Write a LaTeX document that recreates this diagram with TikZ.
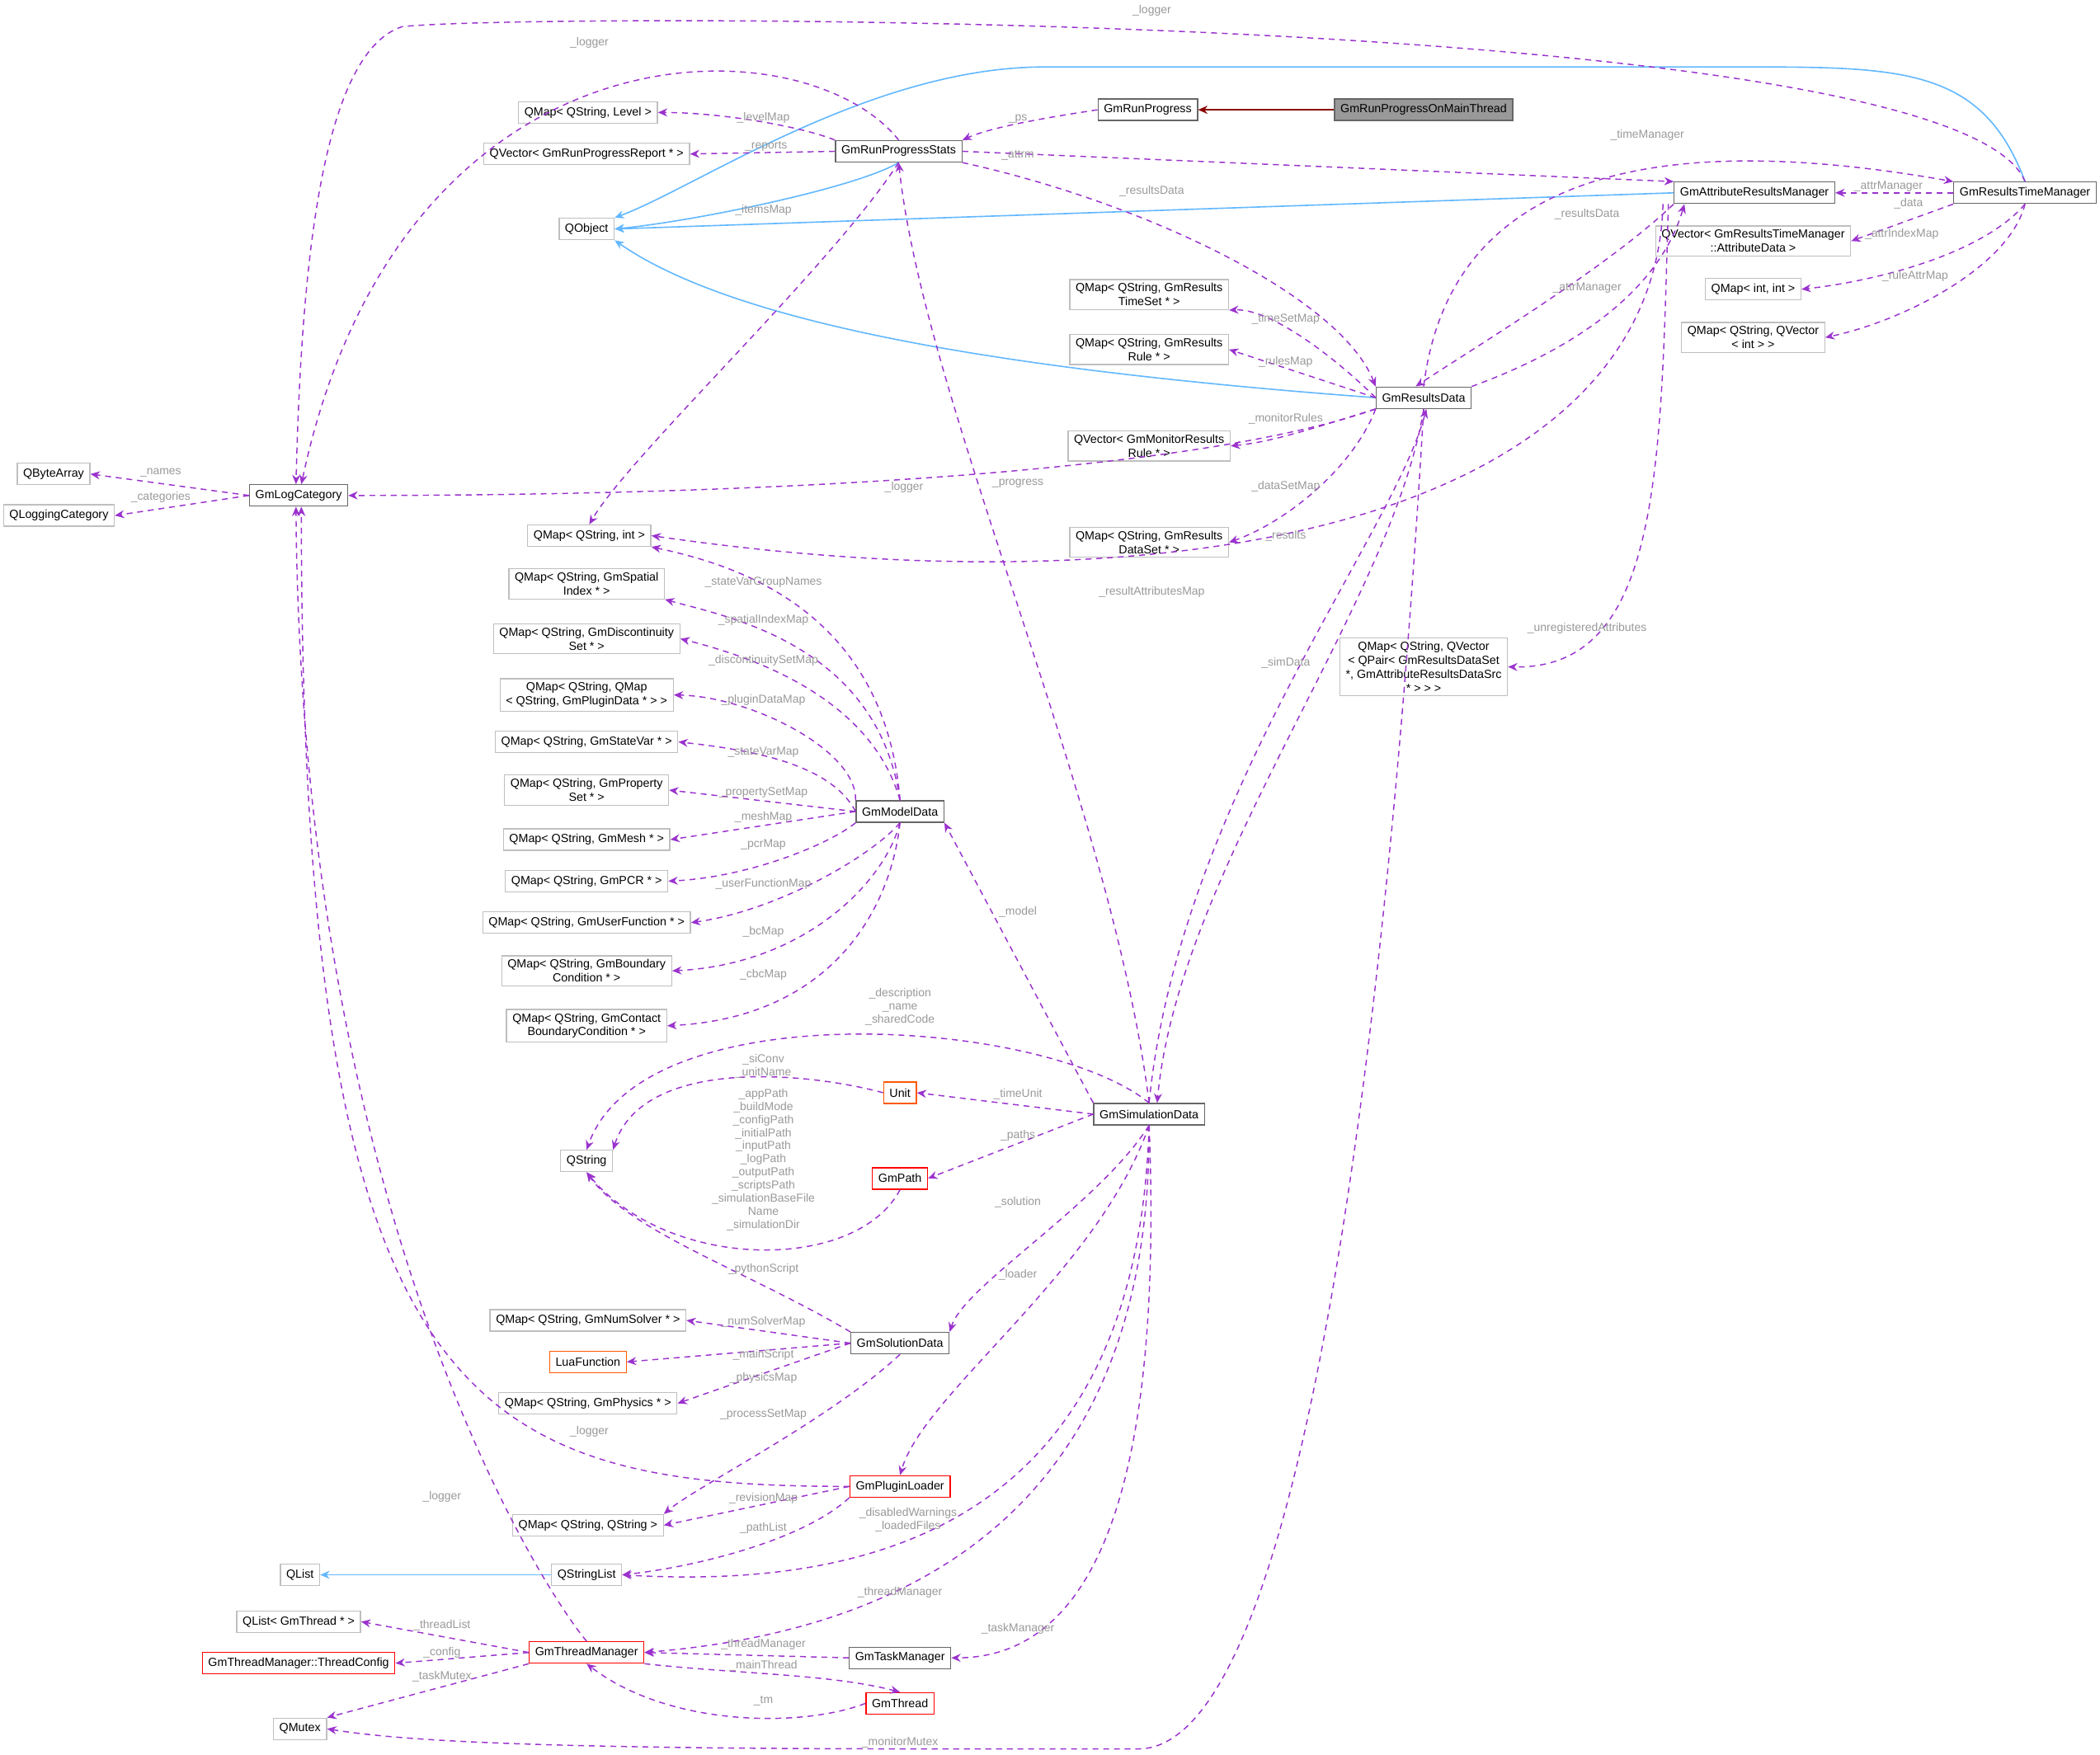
\documentclass[tikz,border=0pt]{standalone}
\usepackage{fontspec}
\setmainfont{Liberation Sans}
\usetikzlibrary{arrows.meta}
\definecolor{dep}{HTML}{9A32CD}
\definecolor{inhb}{HTML}{63B8FF}
\definecolor{inhr}{HTML}{8B0000}
\begin{document}
\begin{tikzpicture}[x=0.5pt,y=-0.5pt,
 every node/.style={font=\fontsize{4.4}{5.2}\selectfont},
 box/.style={draw=#1,fill=white,inner xsep=2.2pt,inner ysep=1.4pt,minimum height=8pt,align=center,line width=0.4pt},
 cls/.style={box=black!60},
 ext/.style={box=black!25},
 rcls/.style={box=red},
 ocls/.style={box=orange!70!red},
 lbl/.style={text=black!40,inner sep=0pt,align=center,font=\fontsize{4.3}{4.9}\selectfont},
 dep/.style={draw=dep,line width=0.45pt,dash pattern=on 2.2pt off 1.8pt,-{Stealth[length=3.5pt,width=3pt]}},
 inb/.style={draw=inhb,line width=0.5pt,-{Stealth[length=3.5pt,width=3pt]}},
 inr/.style={draw=inhr,line width=0.5pt,-{Stealth[length=3.5pt,width=3pt]}}]
\useasboundingbox (0,0) rectangle (1568,1310);
% nodes
\node[cls,fill=black!40,minimum width=63pt] (main) at (1063,82) {GmRunProgressOnMainThread};
\node[cls] (prog) at (857,82) {GmRunProgress};
\node[cls] (stats) at (671,113) {GmRunProgressStats};
\node[ext] (qlevel) at (439,84) {QMap< QString, Level >};
\node[ext] (qrep) at (438,115) {QVector< GmRunProgressReport * >};
\node[ext] (qobj) at (438,171) {QObject};
\node[cls] (attrm) at (1310,144) {GmAttributeResultsManager};
\node[cls] (timem) at (1512,144) {GmResultsTimeManager};
\node[ext] (qad) at (1309,180) {QVector< GmResultsTimeManager\\::AttributeData >};
\node[ext] (qii) at (1309,216) {QMap< int, int >};
\node[ext] (qsvi) at (1309,252) {QMap< QString, QVector\\< int > >};
\node[ext,minimum width=57pt] (qts) at (858,220) {QMap< QString, GmResults\\TimeSet * >};
\node[ext,minimum width=57pt] (qrule) at (858,261) {QMap< QString, GmResults\\Rule * >};
\node[cls] (rd) at (1063,297) {GmResultsData};
\node[ext,minimum width=57pt] (qmon) at (858,333) {QVector< GmMonitorResults\\Rule * >};
\node[ext,minimum width=57pt] (qds) at (858,405) {QMap< QString, GmResults\\DataSet * >};
\node[ext] (qba) at (40,354) {QByteArray};
\node[ext] (qlc) at (44,385) {QLoggingCategory};
\node[cls] (logc) at (223,370) {GmLogCategory};
\node[ext] (qsi) at (440,400) {QMap< QString, int >};
\node[ext] (qspi) at (438,436) {QMap< QString, GmSpatial\\Index * >};
\node[ext] (qdis) at (438,477) {QMap< QString, GmDiscontinuity\\Set * >};
\node[ext] (qpd) at (438,519) {QMap< QString, QMap\\< QString, GmPluginData * > >};
\node[ext] (qsv) at (438,554) {QMap< QString, GmStateVar * >};
\node[ext] (qps) at (438,590) {QMap< QString, GmProperty\\Set * >};
\node[ext] (qmesh) at (438,627) {QMap< QString, GmMesh * >};
\node[ext] (qpcr) at (438,658) {QMap< QString, GmPCR * >};
\node[ext] (quf) at (438,689) {QMap< QString, GmUserFunction * >};
\node[ext] (qbc) at (438,725) {QMap< QString, GmBoundary\\Condition * >};
\node[ext] (qcbc) at (438,766) {QMap< QString, GmContact\\BoundaryCondition * >};
\node[cls] (md) at (672,606) {GmModelData};
\node[ext,minimum width=62pt] (unreg) at (1063,498) {QMap< QString, QVector\\< QPair< GmResultsDataSet\\*, GmAttributeResultsDataSrc\\* > > >};
\node[ocls] (unit) at (672,816) {Unit};
\node[ext] (qstr) at (438,867) {QString};
\node[cls] (sim) at (858,832) {GmSimulationData};
\node[rcls] (path) at (672,880) {GmPath};
\node[ext] (qns) at (439,986) {QMap< QString, GmNumSolver * >};
\node[ocls] (lua) at (439,1017) {LuaFunction};
\node[ext] (qphy) at (439,1048) {QMap< QString, GmPhysics * >};
\node[cls] (sd) at (672,1003) {GmSolutionData};
\node[rcls] (pl) at (672,1110) {GmPluginLoader};
\node[ext] (qss) at (439,1139) {QMap< QString, QString >};
\node[ext] (qlist) at (224,1176) {QList};
\node[ext] (qsl) at (438,1176) {QStringList};
\node[ext] (qlt) at (223,1211) {QList< GmThread * >};
\node[rcls] (tcfg) at (223,1242) {GmThreadManager::ThreadConfig};
\node[ext] (qmut) at (224,1291) {QMutex};
\node[rcls] (tm) at (438,1234) {GmThreadManager};
\node[cls] (task) at (672,1238) {GmTaskManager};
\node[rcls] (thr) at (672,1272) {GmThread};
\coordinate (mm) at (850,1306);
% inheritance
\draw[inr] (main) -- (prog);
\draw[inb] (stats.south) .. controls (640,140) and (520,165) .. (qobj.east);
\draw[inb] (attrm.west) -- (qobj.east);
\draw[inb] (timem.north) .. controls (1480,50) and (1420,50) .. (1300,50) -- (780,50) .. controls (650,50) and (520,140) .. (qobj.north east);
\draw[inb] (rd.west) .. controls (800,280) and (560,250) .. (qobj.south east);
\draw[inb] (qsl) -- (qlist);
% dependencies
\draw[dep] (prog.west) .. controls (780,88) and (740,95) .. (stats.north east);
\draw[dep] (stats.north west) .. controls (600,95) and (540,84) .. (qlevel.east);
\draw[dep] (stats.west) -- (qrep.east);
\draw[dep] (stats.north) .. controls (600,15) and (300,10) .. ([xshift=1pt]logc.north);
\draw[dep] (timem.north) .. controls (1460,5) and (380,10) .. (300,20) .. controls (240,40) and (225,200) .. ([xshift=-1pt]logc.north);
\draw[dep] (stats.east) -- (attrm.north west);
\draw[dep] (stats.south east) .. controls (850,150) and (1000,220) .. (rd.north west);
\draw[dep] (stats.south) .. controls (620,200) and (470,340) .. (qsi.north);
\draw[dep] (timem.west) -- (attrm.east);
\draw[dep] (rd.north) .. controls (1080,150) and (1200,90) .. (timem.north west);
\draw[dep] (timem.south west) -- (qad.east);
\draw[dep] (timem.south) .. controls (1480,190) and (1400,210) .. (qii.east);
\draw[dep] (timem.south) .. controls (1500,200) and (1420,240) .. (qsvi.east);
\draw[dep] (attrm.south west) .. controls (1200,200) and (1100,260) .. ([xshift=-3pt]rd.north);
\draw[dep] (rd.north east) .. controls (1150,270) and (1235,230) .. ([xshift=4pt]attrm.south west);
\draw[dep] (rd.west) .. controls (1000,270) and (950,230) .. (qts.south east);
\draw[dep] (rd.west) -- (qrule.east);
\draw[dep] (rd.south west) .. controls (980,320) and (950,330) .. (qmon.east);
\draw[dep] (rd.south west) .. controls (900,350) and (600,370) .. (logc.east);
\draw[dep] (rd.south west) .. controls (1010,350) and (960,390) .. (qds.east);
\draw[dep] (sim.north) .. controls (830,600) and (690,300) .. (stats.south);
\draw[dep] (sim.north) .. controls (880,600) and (1040,400) .. ([xshift=1pt]rd.south);
\draw[dep] (rd.south) .. controls (1040,450) and (880,650) .. ([xshift=3pt]sim.north);
\draw[dep] ([xshift=-4pt]attrm.south west) .. controls (1235,380) and (900,460) .. (qsi.east);
\draw[dep] ([xshift=-2pt]attrm.south west) .. controls (1240,350) and (1240,500) .. (unreg.east);
\draw[dep] (logc.west) -- (qba.east);
\draw[dep] (logc.west) -- (qlc.east);
\draw[dep] (md.north) .. controls (660,450) and (540,420) .. (qsi.south east);
\draw[dep] (md.north) .. controls (655,480) and (540,460) .. (qspi.south east);
\draw[dep] (md.north) .. controls (650,520) and (560,490) .. (qdis.east);
\draw[dep] (md.north west) .. controls (640,560) and (560,520) .. (qpd.east);
\draw[dep] (md.west) .. controls (620,570) and (560,560) .. (qsv.east);
\draw[dep] (md.west) -- (qps.east);
\draw[dep] (md.west) -- (qmesh.east);
\draw[dep] (md.south west) .. controls (620,630) and (560,655) .. (qpcr.east);
\draw[dep] (md.south) .. controls (650,640) and (580,680) .. (quf.east);
\draw[dep] (md.south) .. controls (660,660) and (600,720) .. (qbc.east);
\draw[dep] (md.south) .. controls (665,680) and (620,760) .. (qcbc.east);
\draw[dep] (sim.north west) -- (md.south east);
\draw[dep] (sim.north) .. controls (780,760) and (480,740) .. (qstr.north);
\draw[dep] (unit.west) .. controls (600,800) and (480,790) .. (qstr.north east);
\draw[dep] (sim.west) -- (unit.east);
\draw[dep] (sim.west) -- (path.east);
\draw[dep] (path.south) .. controls (640,950) and (500,950) .. (qstr.south);
\draw[dep] (sd.north west) .. controls (560,950) and (470,920) .. (qstr.south);
\draw[dep] (sim.south) .. controls (820,900) and (720,960) .. (sd.north east);
\draw[dep] (sim.south) .. controls (820,950) and (690,1040) .. (pl.north);
\draw[dep] (sd.west) -- (qns.east);
\draw[dep] (sd.west) -- (lua.east);
\draw[dep] (sd.west) -- (qphy.east);
\draw[dep] (sd.south) .. controls (620,1060) and (520,1110) .. (qss.north east);
\draw[dep] (pl.west) .. controls (350,1110) and (225,1050) .. ([xshift=1pt]logc.south);
\draw[dep] (pl.west) -- (qss.east);
\draw[dep] (pl.south west) .. controls (600,1150) and (520,1170) .. (qsl.east);
\draw[dep] (sim.south) .. controls (850,1100) and (700,1190) .. (qsl.east);
\draw[dep] (tm.north) .. controls (400,1180) and (225,900) .. ([xshift=-1pt]logc.south);
\draw[dep] (tm.west) -- (qlt.east);
\draw[dep] (tm.west) -- (tcfg.east);
\draw[dep] (tm.south west) -- (qmut.north east);
\draw[dep] (sim.south) .. controls (860,1150) and (650,1220) .. (tm.east);
\draw[dep] (task.west) -- (tm.east);
\draw[dep] (tm.south east) .. controls (550,1250) and (620,1250) .. (thr.north);
\draw[dep] (thr.west) .. controls (600,1290) and (500,1290) .. (tm.south);
\draw[dep] (sim.south) .. controls (870,1150) and (800,1238) .. (task.east);
\draw[dep] (rd.south) .. controls (1040,700) and (980,1306) .. (mm) -- (700,1306) .. controls (400,1306) and (300,1300) .. (qmut.east);
% labels
\node[lbl] (l1) at (760,89) {\_ps};
\node[lbl] (l2) at (570,88) {\_levelMap};
\node[lbl] (l3) at (572,109) {\_reports};
\node[lbl] (l4) at (440,32) {\_logger};
\node[lbl] (l5) at (860,8) {\_logger};
\node[lbl] (l6) at (760,116) {\_attrm};
\node[lbl] (l7) at (860,143) {\_resultsData};
\node[lbl] (l8) at (570,157) {\_itemsMap};
\node[lbl] (l9) at (1410,139) {\_attrManager};
\node[lbl] (l10) at (1230,101) {\_timeManager};
\node[lbl] (l11) at (1425,152) {\_data};
\node[lbl] (l12) at (1420,175) {\_attrIndexMap};
\node[lbl] (l13) at (1430,206) {\_ruleAttrMap};
\node[lbl] (l14) at (1185,160) {\_resultsData};
\node[lbl] (l15) at (1185,215) {\_attrManager};
\node[lbl] (l16) at (960,238) {\_timeSetMap};
\node[lbl] (l17) at (960,270) {\_rulesMap};
\node[lbl] (l18) at (960,313) {\_monitorRules};
\node[lbl] (l19) at (675,364) {\_logger};
\node[lbl] (l20) at (960,363) {\_dataSetMap};
\node[lbl] (l21) at (760,361) {\_progress};
\node[lbl] (l22) at (960,400) {\_results};
\node[lbl] (l23) at (960,495) {\_simData};
\node[lbl] (l24) at (860,442) {\_resultAttributesMap};
\node[lbl] (l25) at (1185,469) {\_unregisteredAttributes};
\node[lbl] (l26) at (120,353) {\_names};
\node[lbl] (l27) at (120,371) {\_categories};
\node[lbl] (l28) at (570,435) {\_stateVarGroupNames};
\node[lbl] (l29) at (570,463) {\_spatialIndexMap};
\node[lbl] (l30) at (570,493) {\_discontinuitySetMap};
\node[lbl] (l31) at (570,523) {\_pluginDataMap};
\node[lbl] (l32) at (570,562) {\_stateVarMap};
\node[lbl] (l33) at (570,592) {\_propertySetMap};
\node[lbl] (l34) at (570,610) {\_meshMap};
\node[lbl] (l35) at (570,631) {\_pcrMap};
\node[lbl] (l36) at (570,660) {\_userFunctionMap};
\node[lbl] (l37) at (570,696) {\_bcMap};
\node[lbl] (l38) at (570,728) {\_cbcMap};
\node[lbl] (l39) at (760,681) {\_model};
\node[lbl] (l40) at (672,752) {\_description\\\_name\\\_sharedCode};
\node[lbl] (l41) at (570,796) {\_siConv\\\_unitName};
\node[lbl] (l42) at (760,817) {\_timeUnit};
\node[lbl] (l43) at (760,848) {\_paths};
\node[lbl] (l44) at (570,866) {\_appPath\\\_buildMode\\\_configPath\\\_initialPath\\\_inputPath\\\_logPath\\\_outputPath\\\_scriptsPath\\\_simulationBaseFile\\Name\\\_simulationDir};
\node[lbl] (l45) at (570,948) {\_pythonScript};
\node[lbl] (l46) at (760,898) {\_solution};
\node[lbl] (l47) at (760,952) {\_loader};
\node[lbl] (l48) at (570,987) {\_numSolverMap};
\node[lbl] (l49) at (570,1012) {\_mainScript};
\node[lbl] (l50) at (570,1029) {\_physicsMap};
\node[lbl] (l51) at (570,1056) {\_processSetMap};
\node[lbl] (l52) at (440,1069) {\_logger};
\node[lbl] (l53) at (570,1119) {\_revisionMap};
\node[lbl] (l54) at (678,1135) {\_disabledWarnings\\\_loadedFiles};
\node[lbl] (l55) at (570,1141) {\_pathList};
\node[lbl] (l56) at (330,1118) {\_logger};
\node[lbl] (l57) at (330,1214) {\_threadList};
\node[lbl] (l58) at (330,1234) {\_config};
\node[lbl] (l59) at (330,1252) {\_taskMutex};
\node[lbl] (l60) at (672,1189) {\_threadManager};
\node[lbl] (l61) at (570,1228) {\_threadManager};
\node[lbl] (l62) at (570,1244) {\_mainThread};
\node[lbl] (l63) at (570,1270) {\_tm};
\node[lbl] (l64) at (760,1216) {\_taskManager};
\node[lbl] (l65) at (672,1301) {\_monitorMutex};
\end{tikzpicture}
\end{document}
